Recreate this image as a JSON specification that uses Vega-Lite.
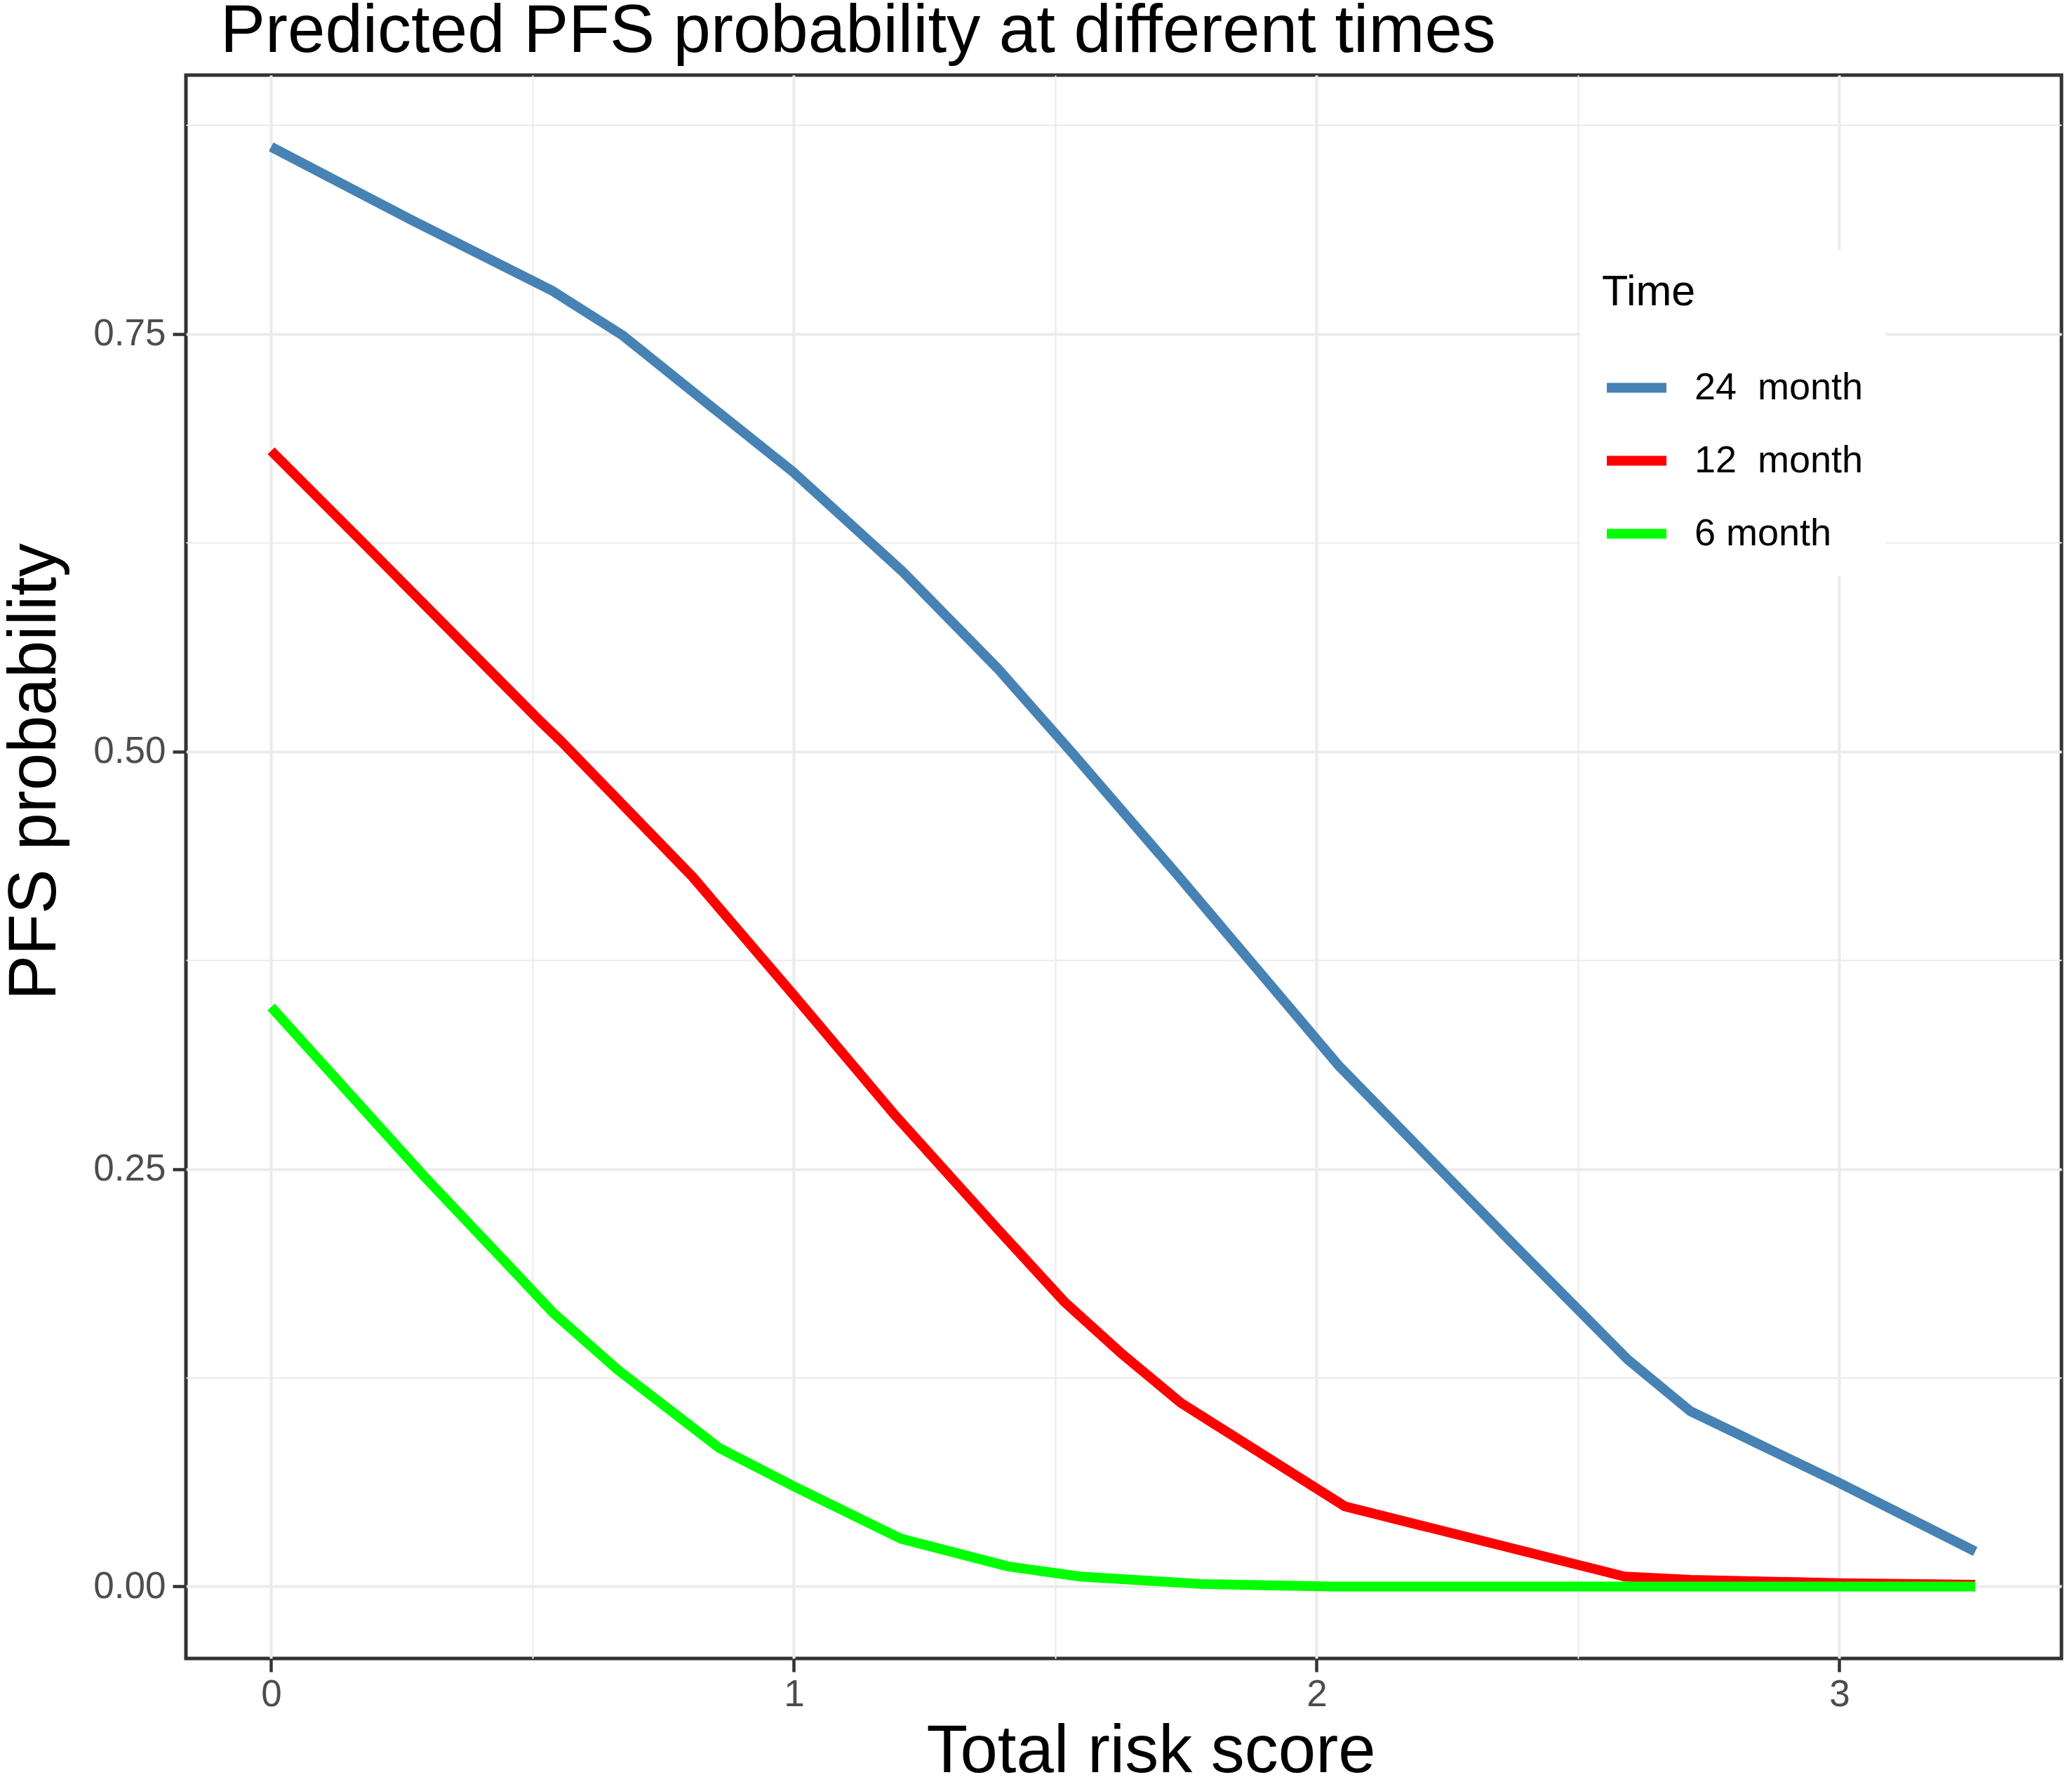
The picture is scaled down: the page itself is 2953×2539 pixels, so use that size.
{
  "$schema": "https://vega.github.io/schema/vega-lite/v6.json",
  "autosize": {"type": "none"},
  "width": 2673,
  "height": 2256,
  "padding": {"left": 265, "top": 107, "right": 15, "bottom": 176},
  "background": "white",
  "title": {
    "text": "Predicted PFS probability at different times",
    "anchor": "start",
    "frame": "group",
    "dx": 49,
    "offset": -63,
    "baseline": "alphabetic",
    "font": "Liberation Sans",
    "fontSize": 96,
    "fontWeight": "normal",
    "color": "black"
  },
  "config": {
    "font": "Liberation Sans",
    "view": {"stroke": "#333333", "strokeWidth": 5},
    "axis": {
      "domain": false,
      "labelFont": "Liberation Sans",
      "labelFontSize": 53,
      "labelColor": "#4D4D4D",
      "tickColor": "#333333",
      "tickWidth": 4.5,
      "tickSize": 19,
      "gridColor": "#EBEBEB",
      "titleFont": "Liberation Sans",
      "titleFontSize": 96,
      "titleFontWeight": "normal",
      "titleColor": "black"
    },
    "legend": {
      "titleFont": "Liberation Sans",
      "labelFont": "Liberation Sans"
    }
  },
  "data": {
    "values": [
      {"score": 0, "prob": 0.862, "time": "24\u00a0 month"},
      {"score": 0.27, "prob": 0.818, "time": "24\u00a0 month"},
      {"score": 0.537, "prob": 0.776, "time": "24\u00a0 month"},
      {"score": 0.673, "prob": 0.749, "time": "24\u00a0 month"},
      {"score": 0.844, "prob": 0.706, "time": "24\u00a0 month"},
      {"score": 1.0, "prob": 0.667, "time": "24\u00a0 month"},
      {"score": 1.207, "prob": 0.608, "time": "24\u00a0 month"},
      {"score": 1.389, "prob": 0.55, "time": "24\u00a0 month"},
      {"score": 1.53, "prob": 0.5, "time": "24\u00a0 month"},
      {"score": 1.734, "prob": 0.426, "time": "24\u00a0 month"},
      {"score": 2.042, "prob": 0.312, "time": "24\u00a0 month"},
      {"score": 2.373, "prob": 0.206, "time": "24\u00a0 month"},
      {"score": 2.595, "prob": 0.136, "time": "24\u00a0 month"},
      {"score": 2.715, "prob": 0.105, "time": "24\u00a0 month"},
      {"score": 3.0, "prob": 0.062, "time": "24\u00a0 month"},
      {"score": 3.26, "prob": 0.021, "time": "24\u00a0 month"},
      {"score": 0, "prob": 0.68, "time": "12\u00a0 month"},
      {"score": 0.179, "prob": 0.624, "time": "12\u00a0 month"},
      {"score": 0.515, "prob": 0.518, "time": "12\u00a0 month"},
      {"score": 0.555, "prob": 0.506, "time": "12\u00a0 month"},
      {"score": 0.806, "prob": 0.425, "time": "12\u00a0 month"},
      {"score": 1.0, "prob": 0.354, "time": "12\u00a0 month"},
      {"score": 1.194, "prob": 0.282, "time": "12\u00a0 month"},
      {"score": 1.387, "prob": 0.215, "time": "12\u00a0 month"},
      {"score": 1.519, "prob": 0.17, "time": "12\u00a0 month"},
      {"score": 1.625, "prob": 0.14, "time": "12\u00a0 month"},
      {"score": 1.74, "prob": 0.11, "time": "12\u00a0 month"},
      {"score": 2.054, "prob": 0.048, "time": "12\u00a0 month"},
      {"score": 2.589, "prob": 0.006, "time": "12\u00a0 month"},
      {"score": 2.715, "prob": 0.004, "time": "12\u00a0 month"},
      {"score": 3.0, "prob": 0.002, "time": "12\u00a0 month"},
      {"score": 3.26, "prob": 0.001, "time": "12\u00a0 month"},
      {"score": 0, "prob": 0.347, "time": "6 month"},
      {"score": 0.293, "prob": 0.2455, "time": "6 month"},
      {"score": 0.476, "prob": 0.185, "time": "6 month"},
      {"score": 0.539, "prob": 0.164, "time": "6 month"},
      {"score": 0.664, "prob": 0.1295, "time": "6 month"},
      {"score": 0.857, "prob": 0.083, "time": "6 month"},
      {"score": 1.0, "prob": 0.06, "time": "6 month"},
      {"score": 1.205, "prob": 0.0286, "time": "6 month"},
      {"score": 1.41, "prob": 0.012, "time": "6 month"},
      {"score": 1.547, "prob": 0.006, "time": "6 month"},
      {"score": 1.78, "prob": 0.0015, "time": "6 month"},
      {"score": 2.03, "prob": 0.0, "time": "6 month"},
      {"score": 3.26, "prob": 0.0, "time": "6 month"}
    ]
  },
  "mark": {"type": "line", "strokeWidth": 14, "strokeJoin": "round", "strokeCap": "butt", "clip": true},
  "encoding": {
    "x": {
      "field": "score",
      "type": "quantitative",
      "scale": {"domain": [-0.163, 3.425], "nice": false, "zero": false},
      "axis": {
        "title": "Total risk score",
        "values": [0, 0.5, 1, 1.5, 2, 2.5, 3],
        "labelExpr": "datum.value % 1 === 0 ? format(datum.value, 'd') : ''",
        "labelPadding": 6,
        "tickOpacity": {"condition": {"test": "datum.value % 1 !== 0", "value": 0}, "value": 1},
        "gridWidth": {"condition": {"test": "datum.value % 1 !== 0", "value": 2}, "value": 4},
        "titleX": 1375,
        "titleY": 161,
        "titleAlign": "center",
        "titleBaseline": "alphabetic"
      }
    },
    "y": {
      "field": "prob",
      "type": "quantitative",
      "scale": {"domain": [-0.0431, 0.905], "nice": false, "zero": false},
      "axis": {
        "title": "PFS probability",
        "values": [0, 0.125, 0.25, 0.375, 0.5, 0.625, 0.75, 0.875],
        "labelExpr": "round(datum.value * 8) % 2 === 0 ? format(datum.value, '.2f') : ''",
        "labelPadding": 10,
        "tickOpacity": {"condition": {"test": "round(datum.value * 8) % 2 === 1", "value": 0}, "value": 1},
        "gridWidth": {"condition": {"test": "round(datum.value * 8) % 2 === 1", "value": 2}, "value": 4},
        "titleX": -187,
        "titleY": 992,
        "titleAlign": "center",
        "titleBaseline": "alphabetic",
        "titleAngle": -90
      }
    },
    "color": {
      "field": "time",
      "type": "nominal",
      "scale": {"domain": ["24\u00a0 month", "12\u00a0 month", "6 month"], "range": ["#4682B4", "#FF0000", "#00FF00"]},
      "legend": {
        "title": "Time",
        "orient": "none",
        "legendX": 1987,
        "legendY": 249,
        "fillColor": "white",
        "padding": 31,
        "titleFontSize": 61,
        "titleFontWeight": "normal",
        "titleColor": "black",
        "titlePadding": 55,
        "labelFontSize": 54,
        "labelColor": "black",
        "labelOffset": 33,
        "labelLimit": 1000,
        "symbolType": "stroke",
        "symbolSize": 7225,
        "symbolStrokeWidth": 14,
        "rowPadding": 26
      }
    }
  }
}
